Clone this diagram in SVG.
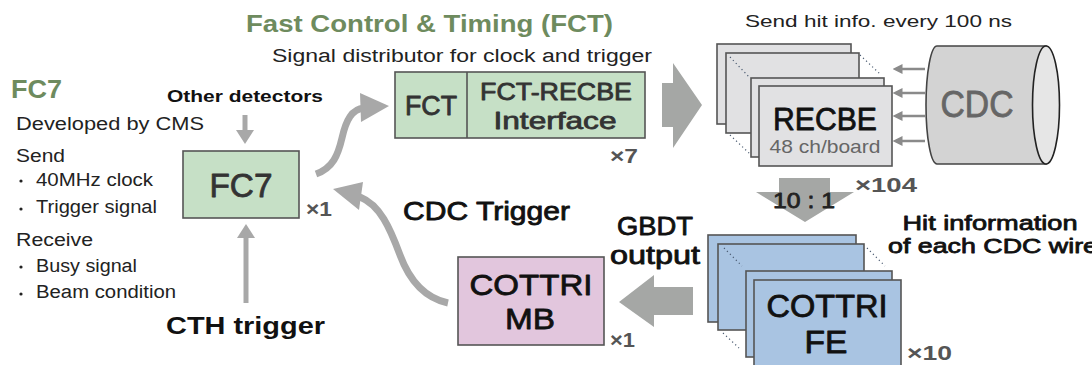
<svg xmlns="http://www.w3.org/2000/svg" width="1092" height="365" viewBox="0 0 1092 365">
<style>
text{font-family:"Liberation Sans",Arial,sans-serif;}
.box{stroke:#555;stroke-width:1.6;}
.green{fill:#c6e0c6;}
.gray{fill:#e1e1e3;}
.blue{fill:#a9c4e2;}
.pink{fill:#e2c6dd;}
.dot{stroke:#4a5a70;stroke-width:1.2;stroke-dasharray:1.2 3;fill:none;}
.mult{fill:#555;font-weight:bold;font-size:20px;}
.body{fill:#222;font-size:18px;}
.med{stroke-width:0.8px;stroke-linejoin:round;}
.big{fill:#a5a7a5;}
.curve{fill:none;stroke:#a8a8a8;stroke-width:7;}
.small{stroke:#8a8a8a;stroke-width:2.5;}
</style>
<defs>
<marker id="sh" markerWidth="4" markerHeight="4" refX="1" refY="2" orient="auto" markerUnits="strokeWidth">
<path d="M0,0 L4,2 L0,4 Z" fill="#8a8a8a"/>
</marker>
</defs>

<!-- left description -->
<g id="fc7-info">
<text x="11" y="98" font-size="25" font-weight="bold" fill="#6e8b5e" textLength="51" lengthAdjust="spacingAndGlyphs">FC7</text>
<text class="body" x="16" y="130" textLength="188" lengthAdjust="spacingAndGlyphs">Developed by CMS</text>
<text class="body" x="16" y="162" textLength="49" lengthAdjust="spacingAndGlyphs">Send</text>
<circle cx="21" cy="181" r="1.6" fill="#222"/>
<text class="body" x="36" y="186" font-size="17" textLength="117" lengthAdjust="spacingAndGlyphs">40MHz clock</text>
<circle cx="21" cy="209" r="1.6" fill="#222"/>
<text class="body" x="36" y="213" font-size="17" textLength="121" lengthAdjust="spacingAndGlyphs">Trigger signal</text>
<text class="body" x="16" y="246" textLength="77" lengthAdjust="spacingAndGlyphs">Receive</text>
<circle cx="21" cy="267" r="1.6" fill="#222"/>
<text class="body" x="36" y="272" font-size="17" textLength="101" lengthAdjust="spacingAndGlyphs">Busy signal</text>
<circle cx="21" cy="294" r="1.6" fill="#222"/>
<text class="body" x="36" y="298" font-size="17" textLength="140" lengthAdjust="spacingAndGlyphs">Beam condition</text>
</g>

<g id="fct-title">
<text x="246" y="32" font-size="23" font-weight="bold" fill="#6e8b5e" textLength="367" lengthAdjust="spacingAndGlyphs">Fast Control &amp; Timing (FCT)</text>
<text x="272" y="62" font-size="18" fill="#222" textLength="380" lengthAdjust="spacingAndGlyphs">Signal distributor for clock and trigger</text>
</g>

<!-- connectors -->
<g id="connectors">
<line x1="245" y1="115" x2="245" y2="132" stroke="#a8a8a8" stroke-width="5"/>
<polygon points="236,130 254,130 245,144" fill="#a8a8a8"/>
<line x1="246" y1="303" x2="246" y2="236" stroke="#a8a8a8" stroke-width="5"/>
<polygon points="237,238 255,238 246,224" fill="#a8a8a8"/>
<path class="curve" d="M316,174 C333,168 338,155 342,138 C346,120 352,109 364,108"/>
<polygon points="360,93 389,106 361,122" fill="#a8a8a8"/>
<path class="curve" d="M448,303 C425,298 410,282 400,255 C390,228 380,205 360,197"/>
<polygon points="333,189 363,182 359,210" fill="#a8a8a8"/>
<polygon class="big" points="662,83 673,83 673,63 702,105 673,148 673,127 662,127"/>
<polygon class="big" points="779,178 830,178 830,192 854,192 805,222 756,192 779,192"/>
<polygon class="big" points="693,287 654,287 654,275 619,302 654,327 654,315 693,315"/>
<line class="small" x1="925" y1="69" x2="900" y2="69" marker-end="url(#sh)"/>
<line class="small" x1="925" y1="93" x2="900" y2="93" marker-end="url(#sh)"/>
<line class="small" x1="925" y1="116" x2="900" y2="116" marker-end="url(#sh)"/>
<line class="small" x1="925" y1="141" x2="900" y2="141" marker-end="url(#sh)"/>
</g>

<g id="other-detectors">
<text x="167" y="102" font-size="17" font-weight="bold" fill="#111" textLength="156" lengthAdjust="spacingAndGlyphs">Other detectors</text>
</g>
<g id="cth-trigger">
<text x="166" y="334" font-size="24" font-weight="bold" fill="#111" textLength="159" lengthAdjust="spacingAndGlyphs">CTH trigger</text>
</g>
<g id="cdc-trigger-label">
<text class="med" x="403" y="220" font-size="25" fill="#111" stroke="#111" textLength="167" lengthAdjust="spacingAndGlyphs">CDC Trigger</text>
</g>
<g id="gbdt-label">
<text class="med" x="655" y="235" font-size="25" fill="#111" stroke="#111" text-anchor="middle" textLength="76" lengthAdjust="spacingAndGlyphs">GBDT</text>
<text class="med" x="655" y="264" font-size="25" fill="#111" stroke="#111" text-anchor="middle" textLength="90" lengthAdjust="spacingAndGlyphs">output</text>
</g>

<!-- FC7 node -->
<g id="fc7">
<rect class="box green" x="183" y="151" width="116" height="67"/>
<text class="med" x="241" y="197" font-size="34" fill="#333" stroke="#333" text-anchor="middle" textLength="63" lengthAdjust="spacingAndGlyphs">FC7</text>
<text class="mult" x="306" y="216" textLength="26" lengthAdjust="spacingAndGlyphs">×1</text>
</g>

<!-- FCT node -->
<g id="fct">
<rect class="box green" x="395" y="72" width="250" height="66"/>
<line x1="467" y1="72" x2="467" y2="138" stroke="#555" stroke-width="1.6"/>
<text class="med" x="431" y="115" font-size="27" fill="#333" stroke="#333" text-anchor="middle" textLength="52" lengthAdjust="spacingAndGlyphs">FCT</text>
<text class="med" x="556" y="100" font-size="24" fill="#333" stroke="#333" text-anchor="middle" textLength="152" lengthAdjust="spacingAndGlyphs">FCT-RECBE</text>
<text class="med" x="555" y="129" font-size="24" fill="#333" stroke="#333" text-anchor="middle" textLength="123" lengthAdjust="spacingAndGlyphs">Interface</text>
<text class="mult" x="610" y="163" textLength="28" lengthAdjust="spacingAndGlyphs">×7</text>
</g>

<!-- RECBE stack -->
<g id="recbe">
<text x="745" y="27" font-size="17" fill="#222" textLength="267" lengthAdjust="spacingAndGlyphs">Send hit info. every 100 ns</text>
<rect class="box gray" x="717" y="44" width="134" height="80"/>
<rect class="box gray" x="726" y="53" width="133" height="80"/>
<rect class="box gray" x="751" y="78" width="133" height="79"/>
<rect class="box gray" x="759" y="86" width="133" height="80"/>
<line class="dot" x1="730" y1="57" x2="750" y2="78"/>
<line class="dot" x1="860" y1="55" x2="880" y2="74"/>
<line class="dot" x1="730" y1="135" x2="750" y2="154"/>
<text class="med" x="825" y="130" font-size="32" fill="#111" stroke="#111" text-anchor="middle" textLength="104" lengthAdjust="spacingAndGlyphs">RECBE</text>
<text x="825" y="153" font-size="19" fill="#666" text-anchor="middle" textLength="111" lengthAdjust="spacingAndGlyphs">48 ch/board</text>
<text class="mult" x="855" y="192" font-size="21" textLength="62" lengthAdjust="spacingAndGlyphs">×104</text>
<text class="med" x="804" y="208" font-size="22" fill="#222" stroke="#222" text-anchor="middle" textLength="62" lengthAdjust="spacingAndGlyphs">10 : 1</text>
</g>

<!-- CDC -->
<g id="cdc">
<path d="M937,46 L1046,46 L1046,164 L937,164 A11,59 0 0 1 937,46 Z" fill="#d3d3d3" stroke="#444" stroke-width="1.6"/>
<ellipse cx="1046" cy="105" rx="13.5" ry="59" fill="#e6e6e6" stroke="#222" stroke-width="1.6"/>
<text class="med" x="977" y="117" font-size="36" fill="#666" stroke="#666" text-anchor="middle" textLength="73" lengthAdjust="spacingAndGlyphs">CDC</text>
</g>

<!-- COTTRI FE stack -->
<g id="cottri-fe">
<text class="med" x="990" y="230" font-size="21" fill="#111" stroke="#111" text-anchor="middle" textLength="175" lengthAdjust="spacingAndGlyphs">Hit information</text>
<text class="med" x="888" y="253" font-size="21" fill="#111" stroke="#111" textLength="210" lengthAdjust="spacingAndGlyphs">of each CDC wire</text>
<rect class="box blue" x="708" y="235" width="148" height="87"/>
<rect class="box blue" x="718" y="244" width="146" height="86"/>
<rect class="box blue" x="746" y="271" width="146" height="86"/>
<rect class="box blue" x="754" y="280" width="147" height="90"/>
<line class="dot" x1="724" y1="248" x2="742" y2="266"/>
<line class="dot" x1="867" y1="248" x2="885" y2="266"/>
<line class="dot" x1="723" y1="333" x2="739" y2="348"/>
<text class="med" x="827" y="317" font-size="31" fill="#111" stroke="#111" text-anchor="middle" textLength="121" lengthAdjust="spacingAndGlyphs">COTTRI</text>
<text class="med" x="826" y="353" font-size="31" fill="#111" stroke="#111" text-anchor="middle" textLength="43" lengthAdjust="spacingAndGlyphs">FE</text>
<text class="mult" x="907" y="360" textLength="45" lengthAdjust="spacingAndGlyphs">×10</text>
</g>

<!-- COTTRI MB -->
<g id="cottri-mb">
<rect class="box pink" x="458" y="257" width="146" height="88"/>
<text class="med" x="531" y="295" font-size="30" fill="#111" stroke="#111" text-anchor="middle" textLength="123" lengthAdjust="spacingAndGlyphs">COTTRI</text>
<text class="med" x="530" y="329" font-size="30" fill="#111" stroke="#111" text-anchor="middle" textLength="50" lengthAdjust="spacingAndGlyphs">MB</text>
<text class="mult" x="610" y="347" textLength="25" lengthAdjust="spacingAndGlyphs">×1</text>
</g>
</svg>
